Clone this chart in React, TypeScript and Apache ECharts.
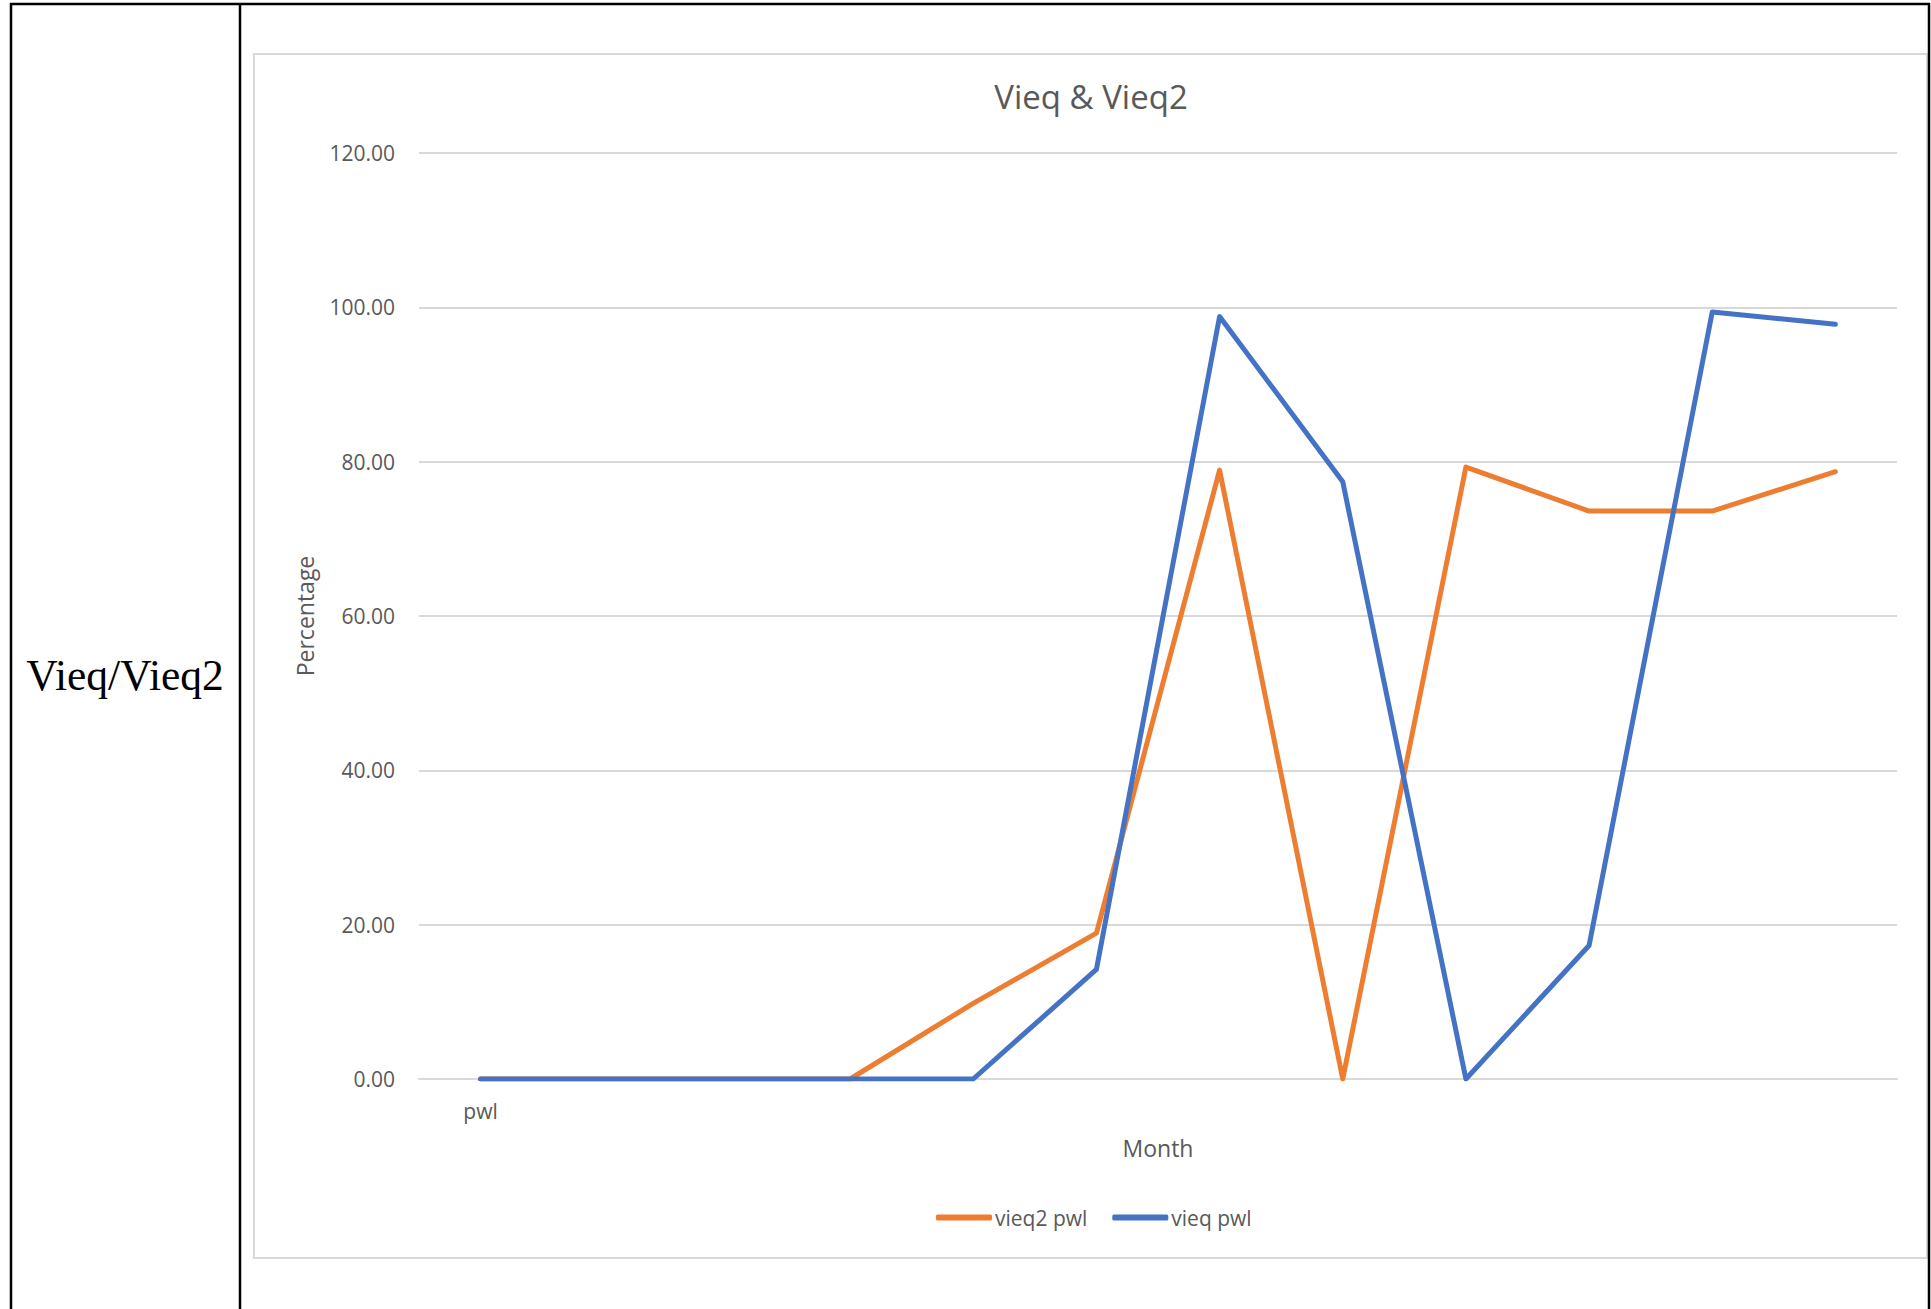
import React, { useEffect, useRef } from "react";
import * as echarts from "echarts";

const categories = ["pwl", "", "", "", "", "", "", "", "", "", "", ""];
const vieq2Pwl = [0, 0, 0, 0, 9.8, 18.9, 78.9, 0, 79.3, 73.6, 73.6, 78.7];
const vieqPwl = [0, 0, 0, 0, 0, 14.2, 98.8, 77.4, 0, 17.3, 99.4, 97.8];
const seriesNames = ["vieq2 pwl", "vieq pwl"];
const seriesColors = ["#ED7D31", "#4472C4"];
const titleText = "Vieq & Vieq2";
const rowLabel = "Vieq/Vieq2";
const xName = "Month";
const yName = "Percentage";

const W = 1931;
const H = 1309;
const FONT = "'Open Sans', 'Noto Sans', sans-serif";
const GREY_TEXT = "#595959";

export default function App() {
  const ref = useRef<HTMLDivElement>(null);

  useEffect(() => {
    if (!ref.current) return;
    const chart = echarts.init(ref.current, null, { renderer: "svg", width: W, height: H });
    const option: any = {
      animation: false,
      backgroundColor: "#ffffff",
      textStyle: { fontFamily: FONT },
      title: {
        text: titleText,
        left: 1091,
        textAlign: "center",
        top: 80,
        padding: 0,
        textStyle: { fontSize: 33, fontWeight: "normal", color: GREY_TEXT, fontFamily: FONT },
      },
      grid: { left: 419, right: 34, top: 153, bottom: 230, containLabel: false },
      xAxis: {
        type: "category",
        data: categories,
        boundaryGap: true,
        axisLine: { show: true, lineStyle: { color: "#D9D9D9", width: 2 } },
        axisTick: { show: false },
        axisLabel: { interval: 0, fontSize: 21, color: GREY_TEXT, margin: 21, fontFamily: FONT },
        splitLine: { show: false },
        name: xName,
        nameLocation: "middle",
        nameGap: 57,
        nameTextStyle: { fontSize: 23, color: GREY_TEXT, fontFamily: FONT },
      },
      yAxis: {
        type: "value",
        min: 0,
        max: 120,
        interval: 20,
        axisLine: { show: false },
        axisTick: { show: false },
        axisLabel: {
          fontSize: 21,
          color: GREY_TEXT,
          margin: 24,
          fontFamily: FONT,
          formatter: (v: number) => v.toFixed(2),
        },
        splitLine: { show: true, lineStyle: { color: "#D9D9D9", width: 2 } },
        name: yName,
        nameLocation: "middle",
        nameGap: 103,
        nameTextStyle: { fontSize: 23, color: GREY_TEXT, fontFamily: FONT },
      },
      legend: {
        data: seriesNames,
        left: 936,
        top: 1207,
        padding: 0,
        icon: "roundRect",
        itemWidth: 56,
        itemHeight: 6,
        itemGap: 25,
        textStyle: { fontSize: 21, color: GREY_TEXT, fontFamily: FONT, padding: [0, 0, 0, -2] },
      },
      series: [
        {
          name: seriesNames[0],
          type: "line",
          data: vieq2Pwl,
          symbol: "none",
          showSymbol: false,
          itemStyle: { color: seriesColors[0] },
          lineStyle: { color: seriesColors[0], width: 5, cap: "round", join: "round" },
        },
        {
          name: seriesNames[1],
          type: "line",
          data: vieqPwl,
          symbol: "none",
          showSymbol: false,
          itemStyle: { color: seriesColors[1] },
          lineStyle: { color: seriesColors[1], width: 5, cap: "round", join: "round" },
        },
      ],
      graphic: [
        {
          type: "rect",
          z: -10,
          silent: true,
          shape: { x: 254, y: 54, width: 1673, height: 1204 },
          style: { fill: "none", stroke: "#D9D9D9", lineWidth: 2 },
        },
        {
          type: "line",
          silent: true,
          shape: { x1: 10, y1: 4, x2: 1930, y2: 4 },
          style: { stroke: "#000000", lineWidth: 2.5 },
        },
        {
          type: "line",
          silent: true,
          shape: { x1: 11, y1: 3, x2: 11, y2: H },
          style: { stroke: "#000000", lineWidth: 2.5 },
        },
        {
          type: "line",
          silent: true,
          shape: { x1: 240, y1: 3, x2: 240, y2: H },
          style: { stroke: "#000000", lineWidth: 2.5 },
        },
        {
          type: "line",
          silent: true,
          shape: { x1: 1929, y1: 3, x2: 1929, y2: H },
          style: { stroke: "#000000", lineWidth: 2.5 },
        },
        {
          type: "text",
          silent: true,
          x: 125,
          y: 675,
          style: {
            text: rowLabel,
            fontSize: 43.5,
            fontFamily: "'Liberation Serif', 'DejaVu Serif', serif",
            fill: "#000000",
            align: "center",
            verticalAlign: "middle",
          },
        },
      ],
    };
    chart.setOption(option);
    return () => chart.dispose();
  }, []);

  return (
    <div
      ref={ref}
      style={{ position: "absolute", left: 0, top: 0, width: W, height: H, background: "#ffffff" }}
    />
  );
}
